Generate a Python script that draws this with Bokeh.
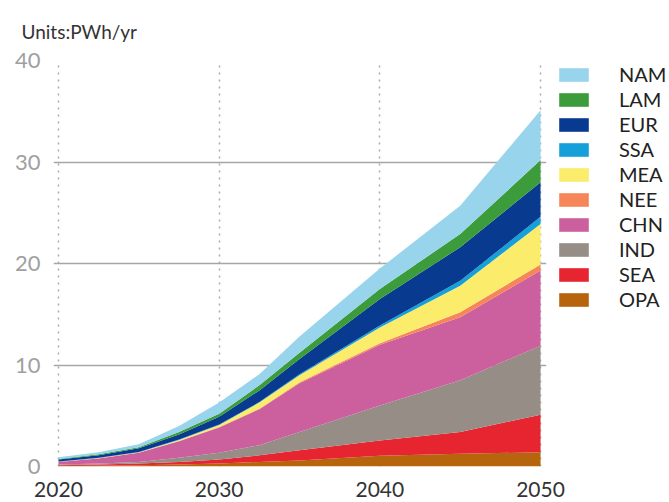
from bokeh.plotting import figure
from bokeh.models import ColumnDataSource, FixedTicker, Legend, LegendItem, Range1d
from bokeh.embed import file_html
from bokeh.resources import INLINE

years = [2020, 2022.5, 2025, 2027.5, 2030, 2032.5, 2035, 2040, 2045, 2050]
OPA = [0.05, 0.08, 0.12, 0.20, 0.30, 0.45, 0.60, 1.05, 1.25, 1.40]
SEA = [0.07, 0.12, 0.18, 0.25, 0.40, 0.65, 1.00, 1.50, 2.15, 3.70]
IND = [0.08, 0.10, 0.15, 0.40, 0.65, 1.00, 1.80, 3.45, 5.10, 6.80]
CHN = [0.25, 0.50, 0.90, 1.65, 2.50, 3.55, 4.80, 6.00, 6.20, 7.40]
NEE = [0.01, 0.01, 0.02, 0.02, 0.03, 0.05, 0.10, 0.15, 0.50, 0.60]
MEA = [0.02, 0.03, 0.03, 0.08, 0.22, 0.60, 0.70, 1.55, 2.60, 4.00]
SSA = [0.02, 0.01, 0.02, 0.05, 0.05, 0.05, 0.10, 0.20, 0.50, 0.70]
EUR = [0.20, 0.25, 0.38, 0.50, 0.75, 1.15, 1.50, 2.60, 3.30, 3.40]
LAM = [0.05, 0.10, 0.10, 0.25, 0.30, 0.50, 0.60, 1.00, 1.30, 2.20]
NAM = [0.15, 0.20, 0.30, 0.60, 1.10, 1.10, 1.60, 2.00, 2.80, 4.90]

regions = ["OPA", "SEA", "IND", "CHN", "NEE", "MEA", "SSA", "EUR", "LAM", "NAM"]
region_colors = ["#b7650c", "#e62530", "#968d86", "#cc5f9d", "#f6865a",
                 "#fcec6b", "#16a0da", "#083a8f", "#3c9c3b", "#98d4ec"]
y_ticks = [0, 10, 20, 30, 40]
x_ticks = [2020, 2030, 2040, 2050]
units_text = "Units:PWh/yr"

src = ColumnDataSource(dict(year=years, OPA=OPA, SEA=SEA, IND=IND, CHN=CHN, NEE=NEE,
                            MEA=MEA, SSA=SSA, EUR=EUR, LAM=LAM, NAM=NAM))

FONT = "Lato"

p = figure(frame_width=493, frame_height=406, output_backend="svg", toolbar_location=None,
           x_range=Range1d(2019.69, 2050.37), y_range=Range1d(0, 40),
           min_border_left=53, min_border_right=122, min_border_top=60,
           min_border_bottom=30)
p.outline_line_color = None
p.background_fill_color = "white"

renderers = p.varea_stack(stackers=regions, x="year", color=region_colors, source=src)

# title (units)
p.title.text = units_text
p.title.align = "left"
p.title.offset = -32
p.title.text_font = FONT
p.title.text_font_size = "19px"
p.title.text_font_style = "normal"
p.title.text_color = "#333333"
p.title.standoff = 31
p.title.vertical_align = "top"

# axes
p.yaxis.ticker = FixedTicker(ticks=y_ticks)
p.xaxis.ticker = FixedTicker(ticks=x_ticks)
for ax in (p.xaxis[0], p.yaxis[0]):
    ax.axis_line_color = None
    ax.major_tick_line_color = None
    ax.minor_tick_line_color = None
    ax.major_label_text_font = FONT
p.yaxis.major_label_text_font_size = "22px"
p.yaxis.major_label_text_color = "#a0a0a0"
p.yaxis.major_label_standoff = 7
p.xaxis.major_label_text_font_size = "21px"
p.xaxis.major_label_text_color = "#333333"
p.xaxis.major_label_standoff = 9

# grids
p.ygrid.grid_line_color = "#a6a6a6"
p.ygrid.grid_line_width = 1.5
p.xgrid.ticker = FixedTicker(ticks=x_ticks)
p.xgrid.grid_line_color = "#aaaaaa"
p.xgrid.grid_line_width = 1.5
p.xgrid.grid_line_dash = "2 5"

items = [LegendItem(label=name, renderers=[r]) for name, r in zip(regions, renderers)]
items.reverse()
legend = Legend(items=items, location=(9, 155), orientation="vertical",
                glyph_width=37, glyph_height=17, label_standoff=27,
                spacing=1, padding=0, margin=0,
                label_text_font=FONT, label_text_font_size="20px",
                label_text_color="#222222", border_line_color=None,
                background_fill_alpha=0)
p.add_layout(legend, "right")

open("out.html", "w").write(file_html(p, INLINE))
